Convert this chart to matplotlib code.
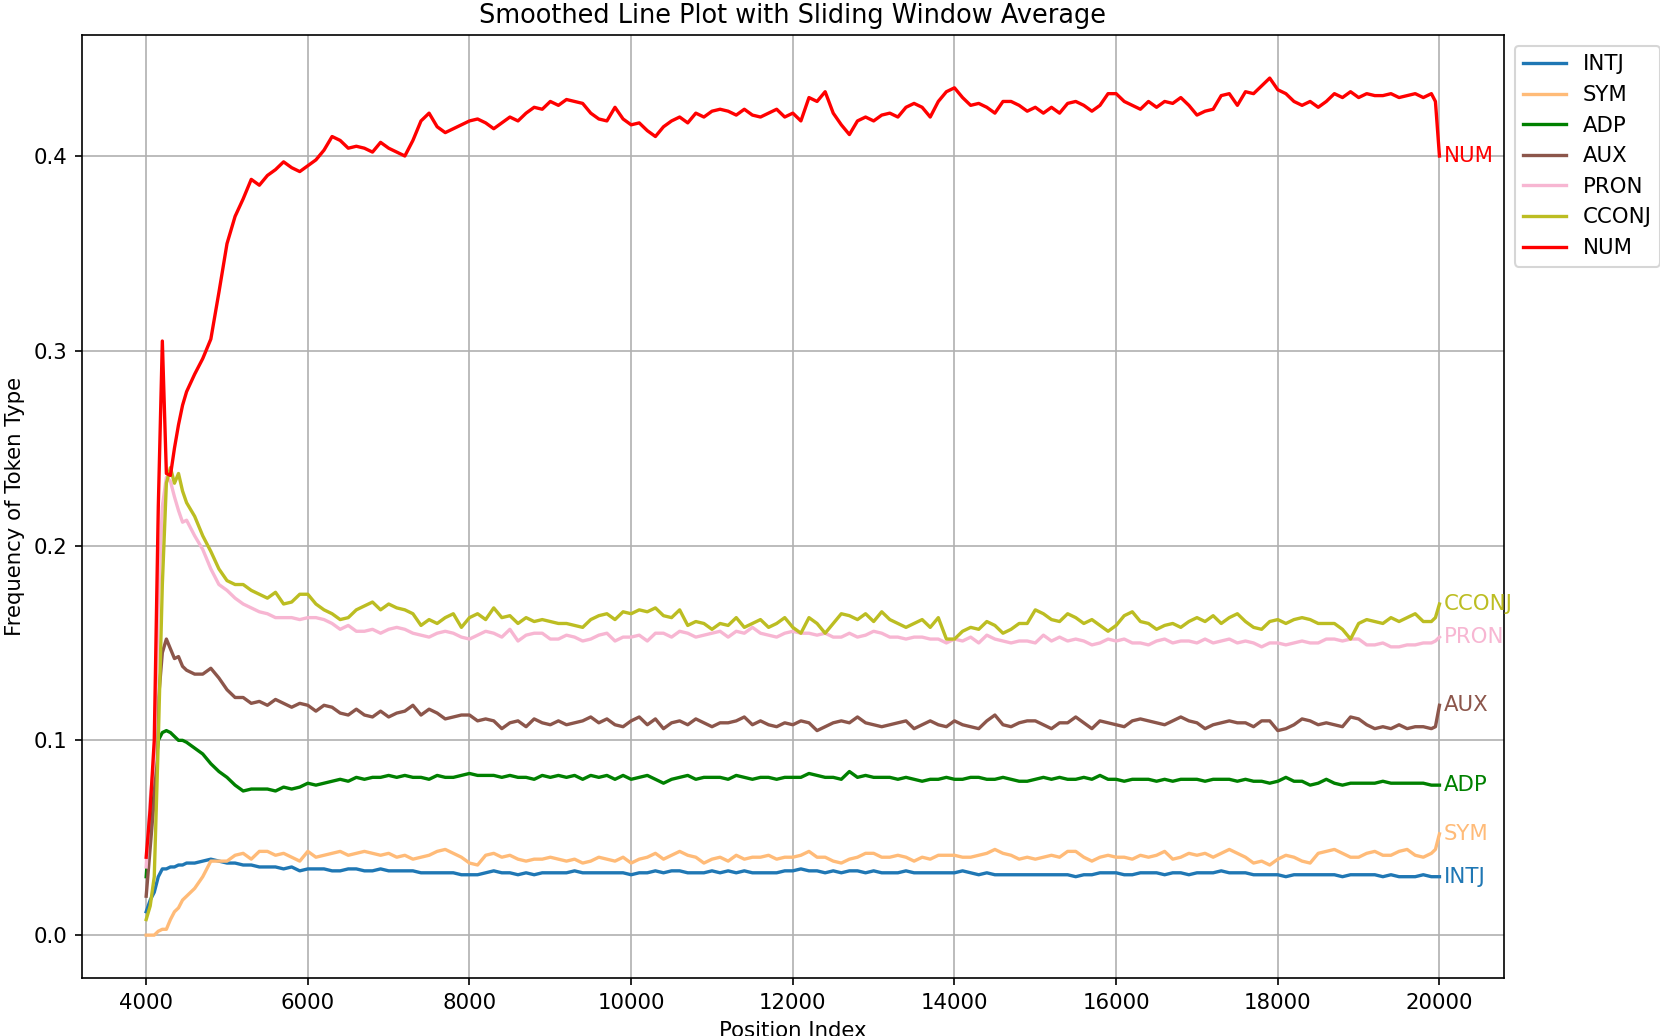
import numpy as np
import matplotlib
matplotlib.use("Agg")
import matplotlib.pyplot as plt

plt.rcParams["font.size"] = 10.2

# Position grid: dense early points, 100-step main part, two end points
x_early = [4000, 4050, 4100, 4150, 4200, 4250, 4300, 4350, 4400, 4450]
x_main = list(range(4500, 20000, 100))
x_end = [19950, 20000]
positions = np.array(x_early + x_main + x_end)

labels = ["INTJ", "SYM", "ADP", "AUX", "PRON", "CCONJ", "NUM"]
colors = ["#1f77b4", "#ffbb78", "green", "#8c564b", "#f7b6d2", "#bcbd22", "red"]

NUM = [0.040, 0.065, 0.100, 0.220, 0.305, 0.237, 0.236, 0.250, 0.262, 0.272,
       0.279, 0.288, 0.296, 0.306, 0.330, 0.355, 0.369, 0.378, 0.388, 0.385,
       0.390, 0.393, 0.397, 0.394, 0.392, 0.395, 0.398, 0.403, 0.410, 0.408,
       0.404, 0.405, 0.404, 0.402, 0.407, 0.404, 0.402, 0.400, 0.408, 0.418,
       0.422, 0.415, 0.412, 0.414, 0.416, 0.418, 0.419, 0.417, 0.414, 0.417,
       0.420, 0.418, 0.422, 0.425, 0.424, 0.428, 0.426, 0.429, 0.428, 0.427,
       0.422, 0.419, 0.418, 0.425, 0.419, 0.416, 0.417, 0.413, 0.410, 0.415,
       0.418, 0.420, 0.417, 0.422, 0.420, 0.423, 0.424, 0.423, 0.421, 0.424,
       0.421, 0.420, 0.422, 0.424, 0.420, 0.422, 0.418, 0.430, 0.428, 0.433,
       0.422, 0.416, 0.411, 0.418, 0.420, 0.418, 0.421, 0.422, 0.420, 0.425,
       0.427, 0.425, 0.420, 0.428, 0.433, 0.435, 0.430, 0.426, 0.427, 0.425,
       0.422, 0.428, 0.428, 0.426, 0.423, 0.425, 0.422, 0.425, 0.422, 0.427,
       0.428, 0.426, 0.423, 0.426, 0.432, 0.432, 0.428, 0.426, 0.424, 0.428,
       0.425, 0.428, 0.427, 0.430, 0.426, 0.421, 0.423, 0.424, 0.431, 0.432,
       0.426, 0.433, 0.432, 0.436, 0.440, 0.434, 0.432, 0.428, 0.426, 0.428,
       0.425, 0.428, 0.432, 0.430, 0.433, 0.430, 0.432, 0.431, 0.431, 0.432,
       0.430, 0.431, 0.432, 0.430, 0.432,
       0.428, 0.400]

CCONJ = [0.008, 0.015, 0.030, 0.100, 0.180, 0.232, 0.240, 0.232, 0.237, 0.228,
         0.222, 0.215, 0.205, 0.197, 0.188, 0.182, 0.180, 0.180, 0.177, 0.175,
         0.173, 0.176, 0.170, 0.171, 0.175, 0.175, 0.170, 0.167, 0.165, 0.162,
         0.163, 0.167, 0.169, 0.171, 0.167, 0.170, 0.168, 0.167, 0.165, 0.159,
         0.162, 0.160, 0.163, 0.165, 0.158, 0.163, 0.165, 0.162, 0.168, 0.163,
         0.164, 0.160, 0.163, 0.161, 0.162, 0.161, 0.160, 0.160, 0.159, 0.158,
         0.162, 0.164, 0.165, 0.162, 0.166, 0.165, 0.167, 0.166, 0.168, 0.164,
         0.163, 0.167, 0.159, 0.161, 0.160, 0.157, 0.160, 0.159, 0.163, 0.158,
         0.160, 0.162, 0.158, 0.160, 0.163, 0.158, 0.155, 0.163, 0.160, 0.155,
         0.160, 0.165, 0.164, 0.162, 0.165, 0.161, 0.166, 0.162, 0.160, 0.158,
         0.160, 0.162, 0.158, 0.163, 0.152, 0.152, 0.156, 0.158, 0.157, 0.161,
         0.159, 0.155, 0.157, 0.160, 0.160, 0.167, 0.165, 0.162, 0.161, 0.165,
         0.163, 0.160, 0.162, 0.159, 0.156, 0.159, 0.164, 0.166, 0.161, 0.160,
         0.157, 0.159, 0.160, 0.158, 0.161, 0.163, 0.161, 0.164, 0.160, 0.163,
         0.165, 0.161, 0.158, 0.157, 0.161, 0.162, 0.160, 0.162, 0.163, 0.162,
         0.160, 0.160, 0.160, 0.157, 0.152, 0.160, 0.162, 0.161, 0.160, 0.163,
         0.161, 0.163, 0.165, 0.161, 0.161,
         0.163, 0.170]

PRON = [0.035, 0.070, 0.090, 0.170, 0.220, 0.235, 0.233, 0.225, 0.218, 0.212,
        0.213, 0.205, 0.198, 0.188, 0.180, 0.177, 0.173, 0.170, 0.168, 0.166,
        0.165, 0.163, 0.163, 0.163, 0.162, 0.163, 0.163, 0.162, 0.160, 0.157,
        0.159, 0.156, 0.156, 0.157, 0.155, 0.157, 0.158, 0.157, 0.155, 0.154,
        0.153, 0.155, 0.156, 0.155, 0.153, 0.152, 0.154, 0.156, 0.155, 0.153,
        0.157, 0.151, 0.154, 0.155, 0.155, 0.152, 0.152, 0.154, 0.153, 0.151,
        0.152, 0.154, 0.155, 0.151, 0.153, 0.153, 0.154, 0.151, 0.155, 0.155,
        0.153, 0.156, 0.155, 0.153, 0.154, 0.155, 0.156, 0.153, 0.156, 0.155,
        0.158, 0.155, 0.154, 0.153, 0.155, 0.156, 0.155, 0.155, 0.154, 0.155,
        0.153, 0.153, 0.155, 0.153, 0.154, 0.156, 0.155, 0.153, 0.153, 0.152,
        0.153, 0.153, 0.152, 0.152, 0.150, 0.152, 0.151, 0.153, 0.150, 0.154,
        0.152, 0.151, 0.150, 0.151, 0.151, 0.150, 0.154, 0.151, 0.153, 0.151,
        0.152, 0.151, 0.149, 0.150, 0.152, 0.151, 0.152, 0.150, 0.150, 0.149,
        0.151, 0.152, 0.150, 0.151, 0.151, 0.150, 0.152, 0.150, 0.151, 0.152,
        0.150, 0.151, 0.150, 0.148, 0.150, 0.150, 0.149, 0.150, 0.151, 0.150,
        0.150, 0.152, 0.152, 0.151, 0.152, 0.152, 0.149, 0.149, 0.150, 0.148,
        0.148, 0.149, 0.149, 0.150, 0.150,
        0.151, 0.153]

AUX = [0.020, 0.045, 0.070, 0.120, 0.145, 0.152, 0.147, 0.142, 0.143, 0.138,
       0.136, 0.134, 0.134, 0.137, 0.132, 0.126, 0.122, 0.122, 0.119, 0.120,
       0.118, 0.121, 0.119, 0.117, 0.119, 0.118, 0.115, 0.118, 0.117, 0.114,
       0.113, 0.116, 0.113, 0.112, 0.115, 0.112, 0.114, 0.115, 0.118, 0.113,
       0.116, 0.114, 0.111, 0.112, 0.113, 0.113, 0.110, 0.111, 0.110, 0.106,
       0.109, 0.110, 0.107, 0.111, 0.109, 0.108, 0.110, 0.108, 0.109, 0.110,
       0.112, 0.109, 0.111, 0.108, 0.107, 0.110, 0.112, 0.108, 0.111, 0.106,
       0.109, 0.110, 0.108, 0.111, 0.109, 0.107, 0.109, 0.109, 0.110, 0.112,
       0.108, 0.110, 0.108, 0.107, 0.109, 0.108, 0.110, 0.109, 0.105, 0.107,
       0.109, 0.110, 0.109, 0.112, 0.109, 0.108, 0.107, 0.108, 0.109, 0.110,
       0.106, 0.108, 0.110, 0.108, 0.107, 0.110, 0.108, 0.107, 0.106, 0.110,
       0.113, 0.108, 0.107, 0.109, 0.110, 0.110, 0.108, 0.106, 0.109, 0.109,
       0.112, 0.109, 0.106, 0.110, 0.109, 0.108, 0.107, 0.110, 0.111, 0.110,
       0.109, 0.108, 0.110, 0.112, 0.110, 0.109, 0.106, 0.108, 0.109, 0.110,
       0.109, 0.109, 0.107, 0.110, 0.110, 0.105, 0.106, 0.108, 0.111, 0.110,
       0.108, 0.109, 0.108, 0.107, 0.112, 0.111, 0.108, 0.106, 0.107, 0.106,
       0.108, 0.106, 0.107, 0.107, 0.106,
       0.107, 0.118]

ADP = [0.030, 0.060, 0.080, 0.100, 0.104, 0.105, 0.104, 0.102, 0.100, 0.100,
       0.099, 0.096, 0.093, 0.088, 0.084, 0.081, 0.077, 0.074, 0.075, 0.075,
       0.075, 0.074, 0.076, 0.075, 0.076, 0.078, 0.077, 0.078, 0.079, 0.080,
       0.079, 0.081, 0.080, 0.081, 0.081, 0.082, 0.081, 0.082, 0.081, 0.081,
       0.080, 0.082, 0.081, 0.081, 0.082, 0.083, 0.082, 0.082, 0.082, 0.081,
       0.082, 0.081, 0.081, 0.080, 0.082, 0.081, 0.082, 0.081, 0.082, 0.080,
       0.082, 0.081, 0.082, 0.080, 0.082, 0.080, 0.081, 0.082, 0.080, 0.078,
       0.080, 0.081, 0.082, 0.080, 0.081, 0.081, 0.081, 0.080, 0.082, 0.081,
       0.080, 0.081, 0.081, 0.080, 0.081, 0.081, 0.081, 0.083, 0.082, 0.081,
       0.081, 0.080, 0.084, 0.081, 0.082, 0.081, 0.081, 0.081, 0.080, 0.081,
       0.080, 0.079, 0.080, 0.080, 0.081, 0.080, 0.080, 0.081, 0.081, 0.080,
       0.080, 0.081, 0.080, 0.079, 0.079, 0.080, 0.081, 0.080, 0.081, 0.080,
       0.080, 0.081, 0.080, 0.082, 0.080, 0.080, 0.079, 0.080, 0.080, 0.080,
       0.079, 0.080, 0.079, 0.080, 0.080, 0.080, 0.079, 0.080, 0.080, 0.080,
       0.079, 0.080, 0.079, 0.079, 0.078, 0.079, 0.081, 0.079, 0.079, 0.077,
       0.078, 0.080, 0.078, 0.077, 0.078, 0.078, 0.078, 0.078, 0.079, 0.078,
       0.078, 0.078, 0.078, 0.078, 0.077,
       0.077, 0.077]

SYM = [0.000, 0.000, 0.000, 0.002, 0.003, 0.003, 0.008, 0.012, 0.014, 0.018,
       0.020, 0.024, 0.030, 0.038, 0.038, 0.038, 0.041, 0.042, 0.039, 0.043,
       0.043, 0.041, 0.042, 0.040, 0.038, 0.043, 0.040, 0.041, 0.042, 0.043,
       0.041, 0.042, 0.043, 0.042, 0.041, 0.042, 0.040, 0.041, 0.039, 0.040,
       0.041, 0.043, 0.044, 0.042, 0.040, 0.037, 0.036, 0.041, 0.042, 0.040,
       0.041, 0.039, 0.038, 0.039, 0.039, 0.040, 0.039, 0.038, 0.039, 0.037,
       0.038, 0.040, 0.039, 0.038, 0.040, 0.037, 0.039, 0.040, 0.042, 0.039,
       0.041, 0.043, 0.041, 0.040, 0.037, 0.039, 0.040, 0.038, 0.041, 0.039,
       0.040, 0.040, 0.041, 0.039, 0.040, 0.040, 0.041, 0.043, 0.040, 0.040,
       0.038, 0.037, 0.039, 0.040, 0.042, 0.042, 0.040, 0.040, 0.041, 0.040,
       0.038, 0.040, 0.039, 0.041, 0.041, 0.041, 0.040, 0.040, 0.041, 0.042,
       0.044, 0.042, 0.041, 0.039, 0.040, 0.039, 0.040, 0.041, 0.040, 0.043,
       0.043, 0.040, 0.038, 0.040, 0.041, 0.040, 0.040, 0.039, 0.041, 0.040,
       0.041, 0.043, 0.039, 0.040, 0.042, 0.041, 0.042, 0.040, 0.042, 0.044,
       0.042, 0.040, 0.037, 0.038, 0.036, 0.039, 0.041, 0.040, 0.038, 0.037,
       0.042, 0.043, 0.044, 0.042, 0.040, 0.040, 0.042, 0.043, 0.041, 0.041,
       0.043, 0.044, 0.041, 0.040, 0.042,
       0.044, 0.052]

INTJ = [0.012, 0.018, 0.022, 0.030, 0.034, 0.034, 0.035, 0.035, 0.036, 0.036,
        0.037, 0.037, 0.038, 0.039, 0.038, 0.037, 0.037, 0.036, 0.036, 0.035,
        0.035, 0.035, 0.034, 0.035, 0.033, 0.034, 0.034, 0.034, 0.033, 0.033,
        0.034, 0.034, 0.033, 0.033, 0.034, 0.033, 0.033, 0.033, 0.033, 0.032,
        0.032, 0.032, 0.032, 0.032, 0.031, 0.031, 0.031, 0.032, 0.033, 0.032,
        0.032, 0.031, 0.032, 0.031, 0.032, 0.032, 0.032, 0.032, 0.033, 0.032,
        0.032, 0.032, 0.032, 0.032, 0.032, 0.031, 0.032, 0.032, 0.033, 0.032,
        0.033, 0.033, 0.032, 0.032, 0.032, 0.033, 0.032, 0.033, 0.032, 0.033,
        0.032, 0.032, 0.032, 0.032, 0.033, 0.033, 0.034, 0.033, 0.033, 0.032,
        0.033, 0.032, 0.033, 0.033, 0.032, 0.033, 0.032, 0.032, 0.032, 0.033,
        0.032, 0.032, 0.032, 0.032, 0.032, 0.032, 0.033, 0.032, 0.031, 0.032,
        0.031, 0.031, 0.031, 0.031, 0.031, 0.031, 0.031, 0.031, 0.031, 0.031,
        0.030, 0.031, 0.031, 0.032, 0.032, 0.032, 0.031, 0.031, 0.032, 0.032,
        0.032, 0.031, 0.032, 0.032, 0.031, 0.032, 0.032, 0.032, 0.033, 0.032,
        0.032, 0.032, 0.031, 0.031, 0.031, 0.031, 0.030, 0.031, 0.031, 0.031,
        0.031, 0.031, 0.031, 0.030, 0.031, 0.031, 0.031, 0.031, 0.030, 0.031,
        0.030, 0.030, 0.030, 0.031, 0.030,
        0.030, 0.030]

series = [INTJ, SYM, ADP, AUX, PRON, CCONJ, NUM]

fig = plt.figure(figsize=(1660 / 150, 1036 / 150), dpi=150)
ax = fig.add_axes([0.0491, 0.056, 0.857, 0.910])

for name, vals, col in zip(labels, series, colors):
    vals = np.array(vals)
    ax.plot(positions, vals, color=col, linewidth=1.6, label=name)
    ax.text(positions[-1] + 50, vals[-1], name, color=col,
            ha="left", va="center")

ax.set_title("Smoothed Line Plot with Sliding Window Average", fontsize=12.3)
ax.set_xlabel("Position Index")
ax.set_ylabel("Frequency of Token Type")
ax.set_xticks(np.arange(4000, 20001, 2000))
ax.set_yticks([0.0, 0.1, 0.2, 0.3, 0.4])
ax.grid(True)
ax.legend(loc="upper left", bbox_to_anchor=(1.0, 1.0))

fig.savefig("out.png", dpi=150)
